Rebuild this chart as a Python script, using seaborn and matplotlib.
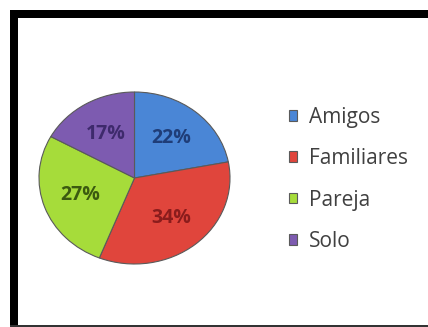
import matplotlib
matplotlib.use("Agg")
import matplotlib.pyplot as plt
from matplotlib.patches import Rectangle
import seaborn as sns

# --- data ---
categories = ["Amigos", "Familiares", "Pareja", "Solo"]
shares = [22, 34, 27, 17]
slice_colors = ["#4a86d6", "#e0453c", "#a6dc3a", "#7d5bb0"]
label_colors = ["#1f3d78", "#8a1c1c", "#3b5a10", "#3e2a6c"]

sns.set_theme(style="white")
plt.rcParams["font.family"] = ["Open Sans", "DejaVu Sans"]

W, H = 428, 327
fig = plt.figure(figsize=(W / 100, H / 100), dpi=100)
fig.patch.set_facecolor("white")

# pie area in pixels: x 39..230, y 91..263 (from top)
ax = fig.add_axes([39 / W, 1 - 264 / H, 191 / W, 172 / H])
palette = sns.color_palette(slice_colors)
wedges, texts, autotexts = ax.pie(
    shares,
    colors=palette,
    startangle=90,
    counterclock=False,
    autopct="%d%%",
    pctdistance=0.6,
    wedgeprops=dict(edgecolor="#5a5a5a", linewidth=0.8),
    textprops=dict(fontsize=14, fontweight="bold"),
)
for t, c in zip(autotexts, label_colors):
    t.set_color(c)
ax.set_aspect("auto")
ax.set_xlim(-1, 1)
ax.set_ylim(-1, 1)

leg = fig.legend(
    wedges,
    categories,
    loc="upper left",
    bbox_to_anchor=(270 / W, 1 - 88 / H),
    frameon=False,
    fontsize=15,
    labelspacing=0.98,
    handlelength=0.4,
    handleheight=0.4,
    handletextpad=0.55,
)
for t in leg.get_texts():
    t.set_color("#404040")

# black frame: thick top and left, thin bottom
fig.add_artist(Rectangle((10 / W, 1 - 18 / H), 1 - 10 / W, 8 / H,
                         transform=fig.transFigure, color="black", lw=0))
fig.add_artist(Rectangle((10 / W, 0), 8 / W, 1 - 10 / H,
                         transform=fig.transFigure, color="black", lw=0))
fig.add_artist(Rectangle((10 / W, 0), 1 - 10 / W, 2 / H,
                         transform=fig.transFigure, color="#333333", lw=0))

fig.savefig("out.png", dpi=100, facecolor="white")
